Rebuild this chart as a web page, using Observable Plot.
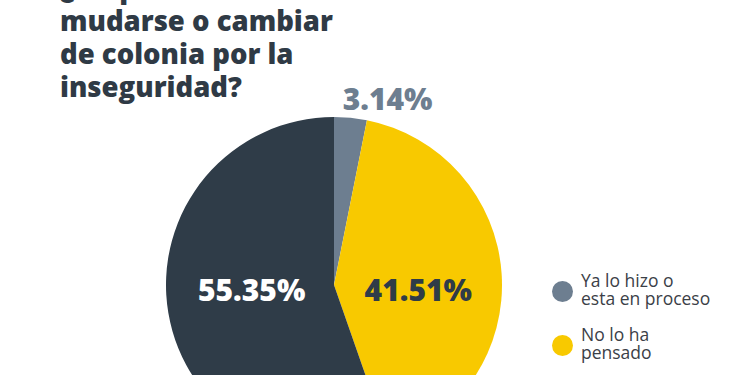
<!DOCTYPE html>
<html>
<head>
<meta charset="utf-8">
<script src="https://cdn.jsdelivr.net/npm/d3@7"></script>
<script src="https://cdn.jsdelivr.net/npm/@observablehq/plot@0.6"></script>
<style>
  body { margin: 0; background: #ffffff; }
  #wrap { position: relative; width: 750px; height: 375px; overflow: hidden; font-family: "Open Sans", sans-serif; }
  #chart { position: absolute; left: 0; top: 0; }
  #title { position: absolute; left: 60px; top: -29px; margin: 0; font-size: 27.5px; font-weight: 800; line-height: 33px; color: #2f3a45; white-space: nowrap; }
  .leg { position: absolute; left: 581px; font-size: 17.5px; line-height: 18px; color: #3b4047; }
  .leg .sw { position: absolute; left: -29px; top: 10px; width: 21px; height: 21px; border-radius: 50%; }
</style>
</head>
<body>
<div id="wrap">
  <div id="chart"></div>
  <h1 id="title"></h1>
  <div id="legend"></div>
</div>
<script>
const titleLines = ["¿Ha pensado en", "mudarse o cambiar", "de colonia por la", "inseguridad?"];
const categories = ["Ya lo hizo o esta en proceso", "No lo ha pensado", "Lo ha pensado"];
const values = [3.14, 41.51, 55.35];
const labels = ["3.14%", "41.51%", "55.35%"];
const colors = ["#6d7e90", "#f8c900", "#2f3c48"];
const legendLines = [["Ya lo hizo o", "esta en proceso"], ["No lo ha", "pensado"]];

document.getElementById("title").innerHTML = titleLines.join("<br>");

const slices = categories.map((c, i) => ({category: c, value: values[i], label: labels[i]}));
const arcs = d3.pie().sort(null).value(d => d.value)(slices);
const mid = a => (a.startAngle + a.endAngle) / 2;
const pos = (a, k) => ({x: k * Math.sin(mid(a)), y: k * Math.cos(mid(a))});

const inside = arcs.filter(a => a.data.value > 10).map(a => ({...pos(a, 0.5), label: a.data.label, category: a.data.category}));
const outside = arcs.filter(a => a.data.value <= 10).map(a => ({...pos(a, 1.1), label: a.data.label, category: a.data.category}));

const chart = Plot.plot({
  width: 750,
  height: 375,
  margin: 0,
  axis: null,
  x: {domain: [-1, 1], range: [166, 502]},
  y: {domain: [1, -1], range: [117, 453]},
  color: {domain: categories, range: colors},
  marks: [
    Plot.dot(arcs, {
      x: () => 0, y: () => 0, fill: d => d.data.category,
      render: (index, scales, vals, dims, context) => {
        const cx = scales.x(0), cy = scales.y(0), r = scales.x(1) - scales.x(0);
        const arc = d3.arc().innerRadius(0).outerRadius(r);
        const g = d3.create("svg:g").attr("transform", `translate(${cx},${cy})`);
        g.selectAll("path").data(Array.from(index, i => arcs[i])).join("path")
          .attr("d", arc).attr("fill", d => scales.color(d.data.category));
        return g.node();
      }
    }),
    Plot.text(inside, {
      x: "x", y: () => 0, text: "label", dy: 6,
      fill: d => d.category === categories[2] ? "#ffffff" : "#2f3c48",
      fontSize: 30, fontWeight: 800, fontFamily: "Open Sans"
    }),
    Plot.text(outside, {
      x: "x", y: "y", text: "label", textAnchor: "start", dx: -10, dy: -1,
      fill: colors[0], fontSize: 30, fontWeight: 800, fontFamily: "Open Sans"
    })
  ]
});
document.getElementById("chart").appendChild(chart);

const legend = document.getElementById("legend");
const tops = [271, 325];
legendLines.forEach((lines, i) => {
  const d = document.createElement("div");
  d.className = "leg";
  d.style.top = tops[i] + "px";
  d.innerHTML = `<span class="sw" style="background:${colors[i]}"></span>` + lines.join("<br>");
  legend.appendChild(d);
});
</script>
</body>
</html>
